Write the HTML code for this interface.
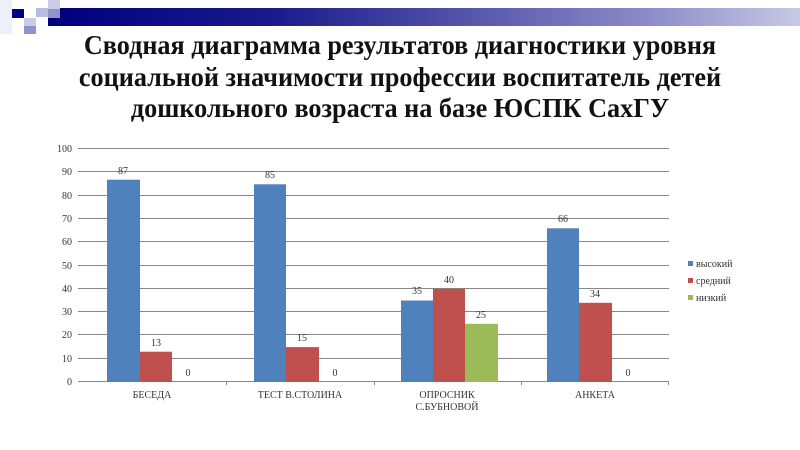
<!DOCTYPE html>
<html><head><meta charset="utf-8"><style>
body{margin:0;width:800px;height:450px;background:#fff;overflow:hidden;position:relative;font-family:"Liberation Serif",serif}
.t{position:absolute;left:0;width:800px;text-align:center;font-weight:bold;font-size:27px;color:#111;transform:scaleX(0.97)}
</style></head><body>
<div style="position:absolute;left:48px;top:8px;width:752px;height:18px;background:linear-gradient(90deg,#000080,#1a1a8c 30%,#8c8cc8 80%,#c8c8e6)"></div>
<div style="position:absolute;left:0;top:0;width:12px;height:34px;background:#eef0f8"></div>
<div style="position:absolute;left:12px;top:9px;width:12px;height:9px;background:#000080"></div>
<div style="position:absolute;left:36px;top:8px;width:12px;height:9px;background:#b8bce0"></div>
<div style="position:absolute;left:48px;top:0;width:12px;height:9px;background:#c8cce6"></div>
<div style="position:absolute;left:48px;top:9px;width:12px;height:9px;background:#9094cc"></div>
<div style="position:absolute;left:24px;top:18px;width:12px;height:8px;background:#c8cce6"></div>
<div style="position:absolute;left:24px;top:26px;width:12px;height:8px;background:#9094cc"></div>
<div class="t" style="top:30px">Сводная диаграмма результатов диагностики уровня</div>
<div class="t" style="top:62px">социальной значимости профессии воспитатель детей</div>
<div class="t" style="top:93px">дошкольного возраста на базе ЮСПК СахГУ</div>
<svg width="800" height="450" style="position:absolute;left:0;top:0" font-family="Liberation Serif,serif" font-size="10" fill="#333">
<g stroke="#888" stroke-width="1">
<line x1="78" x2="669" y1="148.5" y2="148.5"/><line x1="78" x2="669" y1="171.5" y2="171.5"/><line x1="78" x2="669" y1="195.5" y2="195.5"/><line x1="78" x2="669" y1="218.5" y2="218.5"/><line x1="78" x2="669" y1="241.5" y2="241.5"/><line x1="78" x2="669" y1="265.5" y2="265.5"/><line x1="78" x2="669" y1="288.5" y2="288.5"/><line x1="78" x2="669" y1="311.5" y2="311.5"/><line x1="78" x2="669" y1="334.5" y2="334.5"/><line x1="78" x2="669" y1="358.5" y2="358.5"/><line x1="78" x2="669" y1="381.5" y2="381.5"/>
<line x1="226.5" x2="226.5" y1="381" y2="385"/><line x1="374.5" x2="374.5" y1="381" y2="385"/><line x1="521.5" x2="521.5" y1="381" y2="385"/><line x1="668.5" x2="668.5" y1="381" y2="385"/>
</g>
<g text-anchor="end"><text x="72" y="152">100</text><text x="72" y="175">90</text><text x="72" y="199">80</text><text x="72" y="222">70</text><text x="72" y="245">60</text><text x="72" y="269">50</text><text x="72" y="292">40</text><text x="72" y="315">30</text><text x="72" y="338">20</text><text x="72" y="362">10</text><text x="72" y="385">0</text></g>
<g>
<rect x="107" y="179.7" width="33" height="202.3" fill="#4f81bd"/><rect x="140" y="351.7" width="32" height="30.3" fill="#c0504d"/>
<rect x="254" y="184.3" width="32" height="197.7" fill="#4f81bd"/><rect x="286" y="347.1" width="33" height="34.9" fill="#c0504d"/>
<rect x="401" y="300.5" width="32" height="81.5" fill="#4f81bd"/><rect x="433" y="288.8" width="32" height="93.2" fill="#c0504d"/><rect x="465" y="323.8" width="33" height="58.2" fill="#9bbb59"/>
<rect x="547" y="228.3" width="32" height="153.7" fill="#4f81bd"/><rect x="579" y="302.8" width="33" height="79.2" fill="#c0504d"/>
</g>
<g text-anchor="middle"><text x="123" y="174">87</text><text x="156" y="346">13</text><text x="188" y="376">0</text>
<text x="270" y="178">85</text><text x="302" y="341">15</text><text x="335" y="376">0</text>
<text x="417" y="294">35</text><text x="449" y="283">40</text><text x="481" y="318">25</text>
<text x="563" y="222">66</text><text x="595" y="297">34</text><text x="628" y="376">0</text>
<text x="152" y="398">БЕСЕДА</text><text x="300" y="398">ТЕСТ В.СТОЛИНА</text><text x="447" y="398">ОПРОСНИК</text><text x="447" y="410">С.БУБНОВОЙ</text><text x="595" y="398">АНКЕТА</text></g>
<rect x="688" y="261" width="5" height="5" fill="#4f81bd"/><text x="696" y="267">высокий</text>
<rect x="688" y="278" width="5" height="5" fill="#c0504d"/><text x="696" y="284">средний</text>
<rect x="688" y="295" width="5" height="5" fill="#9bbb59"/><text x="696" y="301">низкий</text>
</svg>
</body></html>
